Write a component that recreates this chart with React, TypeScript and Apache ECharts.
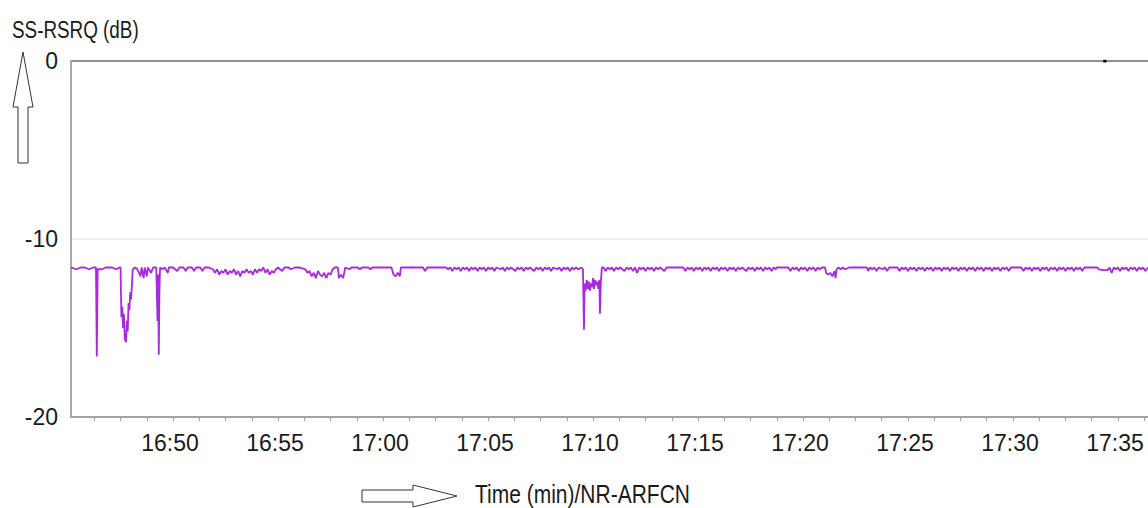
import React, { useEffect, useRef } from "react";
import * as echarts from "echarts";

// time in minutes after 16:00, SS-RSRQ in dB
const seg1645: [number, number][] = [
  [45.14, -11.6], [45.4, -11.7], [45.6, -11.6], [45.8, -11.6], [46.0, -11.7], [46.2, -11.6],
  [46.33, -11.6], [46.37, -16.6], [46.41, -11.7], [46.6, -11.7], [46.8, -11.6], [47.1, -11.6],
  [47.3, -11.7], [47.45, -11.6], [47.5, -11.6], [47.54, -14.4], [47.58, -13.8], [47.62, -15.0],
  [47.66, -14.2], [47.7, -15.6], [47.76, -15.8], [47.8, -14.6], [47.84, -15.2], [47.88, -13.6],
  [47.92, -14.0], [47.96, -13.0], [48.0, -13.4], [48.04, -12.6], [48.08, -11.7], [48.2, -11.6],
  [48.3, -11.7], [48.45, -12.1], [48.5, -11.6], [48.6, -12.2], [48.65, -11.6], [48.75, -12.1],
  [48.8, -11.6], [48.95, -11.9], [49.05, -11.6], [49.2, -11.6], [49.26, -14.6], [49.29, -12.0],
  [49.32, -16.5], [49.35, -13.0], [49.38, -11.6], [49.5, -11.7], [49.6, -11.6], [49.75, -11.9],
  [49.8, -11.6],
];
const seg1650: [number, number][] = [
  [50.0, -11.6], [50.2, -11.8], [50.3, -11.6], [50.5, -11.6], [50.6, -11.8], [50.7, -11.6],
  [50.9, -11.6], [51.0, -11.8], [51.1, -11.6], [51.3, -11.6], [51.4, -11.8], [51.5, -11.6],
  [51.7, -11.6], [51.9, -11.7], [52.0, -11.9], [52.1, -11.7], [52.2, -12.0], [52.3, -11.8],
  [52.4, -11.9], [52.5, -11.7], [52.6, -12.0], [52.7, -11.8], [52.8, -11.9], [52.9, -11.7],
  [53.0, -12.0], [53.1, -11.8], [53.2, -12.1], [53.3, -11.8], [53.4, -11.9], [53.5, -11.7],
  [53.6, -11.9], [53.7, -11.8], [53.8, -12.0], [53.9, -11.7], [54.0, -11.9], [54.1, -11.7],
  [54.2, -11.8], [54.3, -11.6], [54.4, -11.9], [54.5, -11.7], [54.6, -12.0], [54.7, -11.8],
  [54.8, -11.9], [54.9, -11.7],
];
const seg1655: [number, number][] = [
  [55.0, -11.6], [55.2, -11.8], [55.3, -11.6], [55.5, -11.6], [55.6, -11.7], [55.8, -11.6],
  [56.0, -11.6], [56.3, -11.7], [56.4, -11.9], [56.5, -11.8], [56.6, -12.1], [56.7, -11.9],
  [56.8, -12.2], [56.9, -11.8], [57.0, -12.0], [57.1, -12.1], [57.2, -11.9], [57.3, -12.2],
  [57.4, -11.9], [57.5, -12.0], [57.6, -11.7], [57.7, -11.6], [57.85, -11.6], [57.9, -12.2],
  [58.0, -12.0], [58.1, -12.2], [58.2, -11.6], [58.4, -11.7], [58.5, -11.6], [58.8, -11.6],
  [58.9, -11.7], [59.0, -11.6], [59.3, -11.6], [59.4, -11.7], [59.5, -11.6], [59.8, -11.6],
];
const seg1700: [number, number][] = [
  [60.0, -11.6], [60.4, -11.6], [60.5, -12.0], [60.6, -12.1], [60.7, -11.9], [60.8, -12.1],
  [60.85, -11.6], [61.2, -11.6], [61.5, -11.6], [61.9, -11.6], [62.0, -11.8], [62.1, -11.6],
  [62.5, -11.6], [63.0, -11.6], [63.1, -11.7], [63.2, -11.6], [63.3, -11.8], [63.4, -11.6],
  [63.5, -11.7], [63.6, -11.6], [63.7, -11.8], [63.8, -11.6], [63.9, -11.7], [64.0, -11.6],
  [64.1, -11.8], [64.2, -11.6], [64.3, -11.7], [64.4, -11.6], [64.5, -11.8], [64.6, -11.6],
  [64.7, -11.7], [64.8, -11.6], [64.9, -11.8],
];
const seg1705: [number, number][] = [
  [65.0, -11.6], [65.1, -11.7], [65.2, -11.6], [65.3, -11.8], [65.4, -11.6], [65.6, -11.7],
  [65.7, -11.6], [65.8, -11.8], [65.9, -11.6], [66.0, -11.7], [66.1, -11.6], [66.3, -11.8],
  [66.4, -11.6], [66.5, -11.7], [66.6, -11.6], [66.7, -11.8], [66.8, -11.6], [66.9, -11.7],
  [67.0, -11.6], [67.2, -11.8], [67.3, -11.6], [67.4, -11.7], [67.5, -11.6], [67.6, -11.8],
  [67.7, -11.6], [67.8, -11.7], [67.9, -11.6], [68.0, -11.8], [68.1, -11.6], [68.3, -11.7],
  [68.4, -11.6], [68.5, -11.8], [68.6, -11.6], [68.7, -11.7], [68.8, -11.6], [68.9, -11.8],
  [69.0, -11.6], [69.1, -11.7], [69.2, -11.6], [69.3, -11.7], [69.45, -11.6], [69.52, -11.7],
  [69.57, -15.1], [69.6, -12.5], [69.65, -12.9], [69.7, -12.3], [69.75, -12.8], [69.8, -12.4],
  [69.85, -12.9], [69.9, -12.5], [69.95, -12.7], [70.0, -12.2], [70.05, -12.8], [70.1, -12.3],
  [70.15, -12.6], [70.2, -12.4], [70.25, -12.8], [70.3, -12.3], [70.33, -14.2], [70.37, -12.5],
  [70.42, -11.6],
];
const seg1710: [number, number][] = [
  [70.5, -11.6], [70.6, -11.8], [70.7, -11.6], [70.8, -11.7], [70.9, -11.6], [71.0, -11.8],
  [71.1, -11.6], [71.2, -11.7], [71.3, -11.6], [71.5, -11.8], [71.6, -11.6], [71.7, -11.7],
  [71.8, -11.6], [71.9, -11.8], [72.0, -11.6], [72.1, -11.9], [72.2, -11.6], [72.3, -11.7],
  [72.4, -11.6], [72.5, -11.8], [72.6, -11.6], [72.7, -11.7], [72.8, -11.6], [72.9, -11.8],
  [73.0, -11.6], [73.1, -11.7], [73.2, -11.6], [73.4, -11.8], [73.5, -11.6], [73.6, -11.6],
  [74.3, -11.6], [74.4, -11.8], [74.5, -11.6], [74.6, -11.7], [74.7, -11.6], [74.8, -11.8],
  [74.9, -11.6],
];
const seg1715: [number, number][] = [
  [75.0, -11.7], [75.1, -11.6], [75.2, -11.8], [75.3, -11.6], [75.4, -11.7], [75.5, -11.6],
  [75.6, -11.8], [75.7, -11.6], [75.8, -11.7], [75.9, -11.6], [76.0, -11.8], [76.1, -11.6],
  [76.2, -11.7], [76.3, -11.6], [76.4, -11.8], [76.5, -11.6], [76.6, -11.7], [76.7, -11.6],
  [76.8, -11.8], [76.9, -11.6], [77.0, -11.7], [77.1, -11.6], [77.3, -11.8], [77.4, -11.6],
  [77.5, -11.7], [77.6, -11.6], [77.7, -11.8], [77.8, -11.6], [77.9, -11.7], [78.0, -11.6],
  [78.1, -11.8], [78.2, -11.6], [78.3, -11.7], [78.4, -11.6], [78.5, -11.8], [78.6, -11.6],
  [78.7, -11.7], [78.75, -11.6], [79.3, -11.6], [79.4, -11.8], [79.5, -11.6], [79.6, -11.7],
  [79.7, -11.6], [79.8, -11.8], [79.9, -11.6],
];
const seg1720: [number, number][] = [
  [80.0, -11.7], [80.1, -11.6], [80.2, -11.8], [80.3, -11.6], [80.4, -11.7], [80.5, -11.6],
  [80.6, -11.8], [80.7, -11.6], [80.8, -11.7], [80.9, -11.6], [81.05, -11.6], [81.1, -11.9],
  [81.2, -12.0], [81.3, -11.9], [81.4, -12.1], [81.5, -11.8], [81.55, -12.2], [81.6, -11.7],
  [81.7, -11.6], [81.8, -11.7], [81.9, -11.6], [82.0, -11.7], [82.2, -11.6], [83.05, -11.6],
  [83.1, -11.8], [83.2, -11.6], [83.3, -11.7], [83.4, -11.6], [83.5, -11.8], [83.6, -11.6],
  [83.8, -11.7], [83.9, -11.6], [84.0, -11.8], [84.1, -11.6], [84.5, -11.6], [84.6, -11.8],
  [84.7, -11.6], [84.8, -11.7], [84.9, -11.6],
];
const seg1725: [number, number][] = [
  [85.0, -11.8], [85.1, -11.6], [85.2, -11.7], [85.3, -11.6], [85.4, -11.8], [85.5, -11.6],
  [85.6, -11.7], [85.7, -11.6], [85.8, -11.8], [85.9, -11.6], [86.0, -11.7], [86.1, -11.6],
  [86.2, -11.8], [86.3, -11.6], [86.4, -11.7], [86.5, -11.6], [86.6, -11.8], [86.7, -11.6],
  [86.8, -11.7], [86.9, -11.6], [87.0, -11.8], [87.1, -11.6], [87.2, -11.7], [87.3, -11.6],
  [87.4, -11.8], [87.5, -11.6], [87.6, -11.7], [87.7, -11.6], [87.8, -11.8], [87.9, -11.6],
  [88.0, -11.7], [88.1, -11.6], [88.2, -11.8], [88.3, -11.6], [88.4, -11.7], [88.5, -11.6],
  [88.6, -11.8], [88.7, -11.6], [88.8, -11.7], [88.9, -11.6], [89.0, -11.8], [89.1, -11.6],
  [89.2, -11.7], [89.3, -11.6], [89.4, -11.8], [89.5, -11.6], [89.6, -11.7], [89.7, -11.6],
  [89.8, -11.8], [89.9, -11.6],
];
const seg1730: [number, number][] = [
  [90.4, -11.6], [90.5, -11.8], [90.6, -11.6], [90.7, -11.7], [90.8, -11.6], [90.9, -11.8],
  [91.0, -11.6], [91.1, -11.7], [91.2, -11.6], [91.3, -11.8], [91.4, -11.6], [91.5, -11.7],
  [91.6, -11.6], [91.7, -11.8], [91.8, -11.6], [91.9, -11.7], [92.0, -11.6], [92.1, -11.8],
  [92.2, -11.6], [92.3, -11.7], [92.4, -11.6], [92.5, -11.8], [92.6, -11.6], [92.7, -11.7],
  [92.8, -11.6], [92.9, -11.8], [93.0, -11.6], [93.1, -11.7], [93.2, -11.6], [93.3, -11.8],
  [93.4, -11.6], [93.6, -11.6], [94.0, -11.6], [94.1, -11.7], [94.3, -11.75], [94.5, -11.75],
  [94.6, -11.6], [94.7, -11.9], [94.8, -11.6], [94.9, -11.7], [95.0, -11.6], [95.1, -11.8],
  [95.2, -11.6], [95.3, -11.7], [95.4, -11.6], [95.5, -11.8], [95.6, -11.6], [95.7, -11.7],
  [95.8, -11.6], [95.9, -11.8], [96.0, -11.6], [96.1, -11.7], [96.2, -11.6], [96.3, -11.8],
  [96.43, -11.6],
];
const markerSegment: [number, number][] = [[94.3, 0], [94.45, 0]];

const xLabelValues = [50, 55, 60, 65, 70, 75, 80, 85, 90, 95];
const xLabelTexts = ["16:50", "16:55", "17:00", "17:05", "17:10", "17:15", "17:20", "17:25", "17:30", "17:35"];
const xMin = 45.14;
const xMax = 96.43;
const yMin = -20;
const yMax = 0;
const yInterval = 10;

const FONT = "'Liberation Sans', Arial, sans-serif";

export default function App() {
  const ref = useRef<HTMLDivElement>(null);
  useEffect(() => {
    if (!ref.current) return;
    const chart = echarts.init(ref.current, null, { renderer: "svg" });
    const rsrq = [
      ...seg1645, ...seg1650, ...seg1655, ...seg1700, ...seg1705,
      ...seg1710, ...seg1715, ...seg1720, ...seg1725, ...seg1730,
    ];
    const tickValues: number[] = [];
    for (let t = 46.25; t <= xMax; t += 1.25) tickValues.push(Math.round(t * 100) / 100);

    chart.setOption({
      animation: false,
      backgroundColor: "#ffffff",
      grid: { left: 71, top: 61, right: 0, bottom: 91 },
      xAxis: {
        type: "value",
        min: xMin,
        max: xMax,
        axisLine: { onZero: false, lineStyle: { color: "#a3a3a3", width: 2 } },
        axisTick: { show: true, length: 4, customValues: tickValues, lineStyle: { color: "#a3a3a3" } },
        splitLine: { show: false },
        axisLabel: {
          customValues: xLabelValues,
          formatter: (v: number) => {
            const i = xLabelValues.indexOf(Math.round(v));
            return i >= 0 ? xLabelTexts[i] : "";
          },
          fontFamily: FONT,
          fontSize: 23,
          color: "#1a1a1a",
          margin: 14,
          padding: [0, 6, 0, 0],
        },
      },
      yAxis: {
        type: "value",
        min: yMin,
        max: yMax,
        interval: yInterval,
        axisLine: { show: true, onZero: false, lineStyle: { color: "#a8a8a8", width: 2 } },
        axisTick: { show: false },
        splitLine: { show: true, lineStyle: { color: ["#a3a3a3", "#efefef", "#909090"], width: 2 } },
        axisLabel: { fontFamily: FONT, fontSize: 23, color: "#1a1a1a", margin: 13 },
      },
      graphic: [
        {
          type: "text",
          x: 12,
          y: 18,
          scaleX: 0.82,
          style: { text: "SS-RSRQ (dB)", font: `23px ${FONT}`, fill: "#1a1a1a", verticalAlign: "top" },
        },
        {
          type: "text",
          x: 475,
          y: 482,
          scaleX: 0.84,
          style: { text: "Time (min)/NR-ARFCN", font: `25px ${FONT}`, fill: "#1a1a1a", verticalAlign: "top" },
        },
        {
          type: "polygon",
          shape: { points: [[23, 52], [33, 107], [28, 107], [28, 163], [18, 163], [18, 107], [13, 107]] },
          style: { fill: "#ffffff", stroke: "#333333", lineWidth: 1 },
        },
        {
          type: "polygon",
          shape: { points: [[362, 490], [413, 490], [413, 485], [457, 496], [413, 507], [413, 502], [362, 502]] },
          style: { fill: "#ffffff", stroke: "#333333", lineWidth: 1 },
        },
      ],
      series: [
        {
          type: "line",
          data: rsrq,
          showSymbol: false,
          symbol: "none",
          lineStyle: { color: "#a829e0", width: 1.8 },
          z: 3,
        },
        {
          type: "line",
          data: markerSegment,
          showSymbol: false,
          symbol: "none",
          lineStyle: { color: "#000000", width: 3 },
          z: 4,
        },
      ],
    });
    return () => chart.dispose();
  }, []);
  return <div ref={ref} style={{ position: "absolute", left: 0, top: 0, width: 1148, height: 508 }} />;
}
